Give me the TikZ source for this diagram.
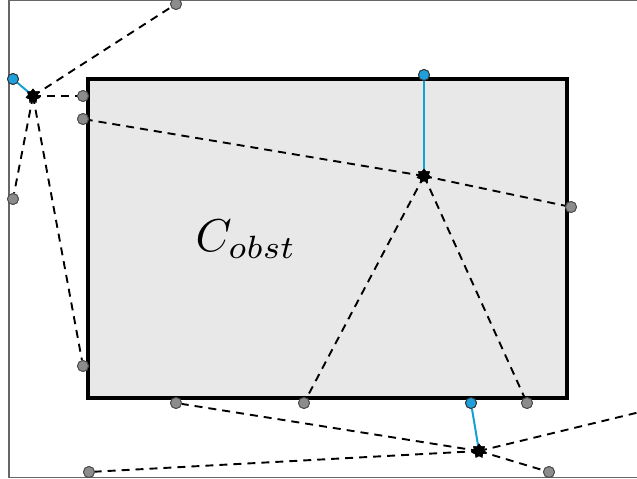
\documentclass[tikz,border=0pt]{standalone}
\usetikzlibrary{shapes.geometric}
\definecolor{obstfill}{RGB}{232,232,232}
\definecolor{ptgray}{RGB}{140,140,140}
\definecolor{ptblue}{RGB}{30,160,220}
\definecolor{lnblue}{RGB}{20,160,215}
\begin{document}
\begin{tikzpicture}[x=1pt,y=-1pt,
  gpt/.style={circle,draw=black!70,fill=ptgray,line width=0.9pt,inner sep=0pt,minimum size=11pt},
  bpt/.style={circle,draw=black!80,fill=ptblue,line width=0.9pt,inner sep=0pt,minimum size=11pt},
  rpt/.style={star,star points=7,star point ratio=1.5,fill=black,inner sep=0pt,minimum size=15pt},
  ray/.style={dash pattern=on 8pt off 6pt,line width=1.9pt},
  link/.style={lnblue,line width=2pt}]
\useasboundingbox (0,0) rectangle (637,479);
% outer frame
\draw[black!60,line width=1.4pt] (637,0.7) -- (9,0.7) -- (9,477.5) -- (637,477.5);
% obstacle
\draw[line width=4pt,fill=obstfill] (88,79) rectangle (567,398);
\node[scale=4.6] (lab) at (246,239) {$C_{obst}$};
% robot points
\node[rpt] (p1) at (33,96) {};
\node[rpt] (p2) at (424,176) {};
\node[rpt] (p3) at (479,451) {};
% blue points
\node[bpt] (b1) at (13,79) {};
\node[bpt] (b2) at (424,75) {};
\node[bpt] (b3) at (471,403) {};
% gray points
\node[gpt] (g1) at (176,4) {};
\node[gpt] (g2) at (83,96) {};
\node[gpt] (g3) at (13,199) {};
\node[gpt] (g4) at (83,366) {};
\node[gpt] (g5) at (83,119) {};
\node[gpt] (g6) at (571,207) {};
\node[gpt] (g7) at (304,403) {};
\node[gpt] (g8) at (527,403) {};
\node[gpt] (g9) at (176,403) {};
\node[gpt] (g10) at (89,472) {};
\node[gpt] (g11) at (549,472) {};
\coordinate (e1) at (640,412);
% rays
\draw[ray] (p1.center) -- (g1);
\draw[ray] (p1.center) -- (g2);
\draw[ray] (p1.center) -- (g3);
\draw[ray] (p1.center) -- (g4);
\draw[ray] (p2.center) -- (g5);
\draw[ray] (p2.center) -- (g6);
\draw[ray] (p2.center) -- (g7);
\draw[ray] (p2.center) -- (g8);
\draw[ray] (p3.center) -- (g9);
\draw[ray] (p3.center) -- (g10);
\draw[ray] (p3.center) -- (g11);
\draw[ray] (p3.center) -- (e1);
% links
\draw[link] (b1) -- (p1.center);
\draw[link] (b2) -- (p2.center);
\draw[link] (b3) -- (p3.center);
% redraw points on top
\foreach \p in {{176,4},{83,96},{13,199},{83,366},{83,119},{571,207},{304,403},{527,403},{176,403},{89,472},{549,472}}
  \node[gpt] at (\p) {};
\foreach \p in {{13,79},{424,75},{471,403}}
  \node[bpt] at (\p) {};
\foreach \p in {{33,96},{424,176},{479,451}}
  \node[rpt] at (\p) {};
\end{tikzpicture}
\end{document}
